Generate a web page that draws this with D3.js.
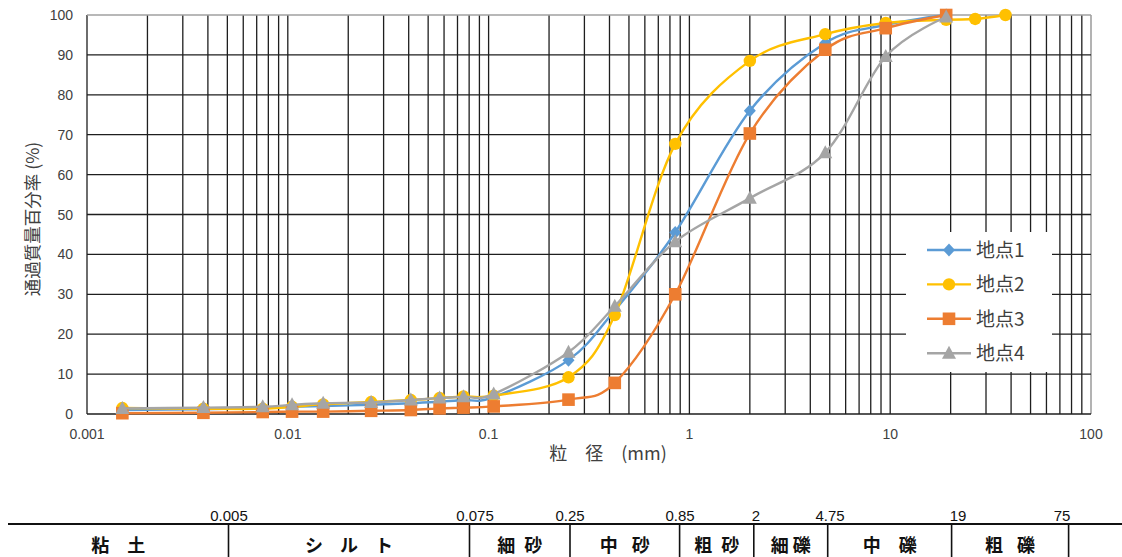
<!DOCTYPE html>
<html><head><meta charset="utf-8">
<script src="https://cdn.jsdelivr.net/npm/d3@7"></script>
<style>
html,body{margin:0;padding:0;background:#fff;}
svg{display:block;}
</style></head>
<body>
<svg id="chart" width="1122" height="557"></svg>
<script>
// ---------- data ----------
const sizes = [0.0015,0.0038,0.0075,0.0105,0.015,0.026,0.041,0.057,0.075,0.106,0.25,0.425,0.85,2,4.75,9.5,19,26.5,37.5];
const site1 = [1.0,1.2,1.5,1.8,2.0,2.3,2.7,3.1,3.5,4.2,13.5,26,45.5,76,93,97.5,100,null,null];
const site2 = [1.5,1.3,1.3,1.8,2.4,3.0,3.5,4.0,4.4,4.6,9.2,24.8,67.7,88.5,95.2,98,98.8,99,100];
const site3 = [0.2,0.3,0.5,0.6,0.6,0.8,1.0,1.4,1.6,1.9,3.6,7.8,30,70.3,91.3,96.7,100,null,null];
const site4 = [1.4,1.6,1.8,2.3,2.7,2.9,3.5,4.0,4.3,5.0,15.5,27,43.2,54.1,65.5,89.6,99.5,null,null];
const seriesNames = ["地点1","地点2","地点3","地点4"];
const yTicks = [0,10,20,30,40,50,60,70,80,90,100];
const xTickLabels = ["0.001","0.01","0.1","1","10","100"];
const xTickValues = [0.001,0.01,0.1,1,10,100];
const boundaryLabels = ["0.005","0.075","0.25","0.85","2","4.75","19","75"];
const soilClasses = ["粘土","シルト","細砂","中砂","粗砂","細礫","中礫","粗礫"];

// ---------- layout ----------
const svg = d3.select("#chart");
const L = 87, R = 1091, T = 15, B = 414;
const x = d3.scaleLog().domain([0.001,100]).range([L,R]);
const y = d3.scaleLinear().domain([0,100]).range([B,T]);
const colors = ["#5B9BD5","#FFC000","#ED7D31","#A5A5A5"];
const numFont = "'Liberation Sans', Arial, sans-serif";
const jpFont = "'Noto Sans CJK JP', sans-serif";

// grid
const g = svg.append("g");
const minor = [];
for (let e = -3; e < 2; e++) for (let k = 1; k <= 9; k++) minor.push(k * Math.pow(10, e));
minor.push(100);
g.selectAll("line.v").data(minor).enter().append("line")
  .attr("x1", d => x(d)).attr("x2", d => x(d)).attr("y1", T).attr("y2", B)
  .attr("stroke", (d,i) => i === minor.length-1 ? "#8a8a8a" : "#1e1e1e").attr("stroke-width", 1.3);
g.selectAll("line.h").data(yTicks).enter().append("line")
  .attr("x1", L).attr("x2", R).attr("y1", d => y(d)).attr("y2", d => y(d))
  .attr("stroke", d => d === 100 ? "#a0a0a0" : "#1e1e1e").attr("stroke-width", 1.3);

// y tick labels
svg.append("g").selectAll("text").data(yTicks).enter().append("text")
  .attr("x", 73).attr("y", d => y(d)).attr("dy", "0.36em").attr("text-anchor", "end")
  .attr("font-family", numFont).attr("font-size", 14).attr("fill", "#404040").text(d => d);
// x tick labels
svg.append("g").selectAll("text").data(xTickValues).enter().append("text")
  .attr("x", d => x(d)).attr("y", 434).attr("dy", "0.36em").attr("text-anchor", "middle")
  .attr("font-family", numFont).attr("font-size", 14).attr("fill", "#404040").text((d,i) => xTickLabels[i]);
// axis titles
svg.append("text").attr("x", 608).attr("y", 454).attr("dy", "0.36em").attr("text-anchor", "middle")
  .attr("font-family", jpFont).attr("font-size", 18).attr("fill", "#404040")
  .attr("xml:space", "preserve").text("粒　径　(mm)");
svg.append("text").attr("transform", "translate(33,219) rotate(-90)").attr("dy", "0.36em")
  .attr("text-anchor", "middle").attr("font-family", jpFont).attr("font-size", 17.5).attr("fill", "#404040")
  .text("通過質量百分率 (%)");

// series
const allSeries = [site1, site2, site3, site4].map((vals, i) => ({
  name: seriesNames[i], color: colors[i], i,
  pts: sizes.map((s, j) => ({s, v: vals[j]})).filter(p => p.v !== null)
}));
const line = d3.line().x(d => x(d.s)).y(d => y(d.v)).curve(d3.curveCatmullRom.alpha(0));
function marker(sel, i, color) {
  if (i === 0) {
    sel.append("path").attr("d", "M0,-6.5L6,0L0,6.5L-6,0Z").attr("fill", color);
  } else if (i === 1) {
    sel.append("circle").attr("r", 6.2).attr("fill", color);
  } else if (i === 2) {
    sel.append("rect").attr("x", -6.3).attr("y", -6.3).attr("width", 12.6).attr("height", 12.6).attr("fill", color);
  } else {
    sel.append("path").attr("d", "M0,-7.5L7,5.5L-7,5.5Z").attr("fill", color);
  }
}
allSeries.forEach(sr => {
  const gs = svg.append("g");
  gs.append("path").attr("d", line(sr.pts)).attr("fill", "none").attr("stroke", sr.color).attr("stroke-width", 2.4);
  sr.pts.forEach(p => {
    const m = gs.append("g").attr("transform", `translate(${x(p.s)},${y(p.v)})`);
    marker(m, sr.i, sr.color);
  });
});

// legend
const lg = svg.append("g");
lg.append("rect").attr("x", 906).attr("y", 232).attr("width", 146).attr("height", 140).attr("fill", "#fff");
allSeries.forEach((sr, k) => {
  const ly = 250 + k * 34.4;
  lg.append("line").attr("x1", 927).attr("x2", 971).attr("y1", ly).attr("y2", ly)
    .attr("stroke", sr.color).attr("stroke-width", 2.4);
  marker(lg.append("g").attr("transform", `translate(949,${ly})`), sr.i, sr.color);
  lg.append("text").attr("x", 976).attr("y", ly).attr("dy", "0.36em").attr("font-family", jpFont)
    .attr("font-size", 19).attr("fill", "#404040").text(sr.name);
});

// soil classification table
const edges = [8, 228.5, 469.5, 570, 679.6, 753.8, 827.7, 951.6, 1068.6, 1122];
const labelX = [229, 475, 570, 680, 756, 830, 958, 1062];
const classSpacing = [18, 17, 9, 14, 9, 4, 18, 14];
const tb = svg.append("g");
tb.append("line").attr("x1", 8).attr("x2", 1122).attr("y1", 524).attr("y2", 524).attr("stroke", "#111").attr("stroke-width", 2);
tb.selectAll("line.d").data(edges.slice(1, 9)).enter().append("line")
  .attr("x1", d => d).attr("x2", d => d).attr("y1", 524).attr("y2", 557).attr("stroke", "#111").attr("stroke-width", 1.6);
tb.selectAll("text.b").data(boundaryLabels).enter().append("text")
  .attr("x", (d,i) => labelX[i]).attr("y", 521).attr("text-anchor", "middle")
  .attr("font-family", numFont).attr("font-size", 15).attr("fill", "#111").text(d => d);
tb.selectAll("text.c").data(soilClasses).enter().append("text")
  .attr("x", (d,i) => (edges[i] + edges[i+1]) / 2 + classSpacing[i] / 2)
  .attr("y", 546).attr("dy", "0.36em").attr("text-anchor", "middle")
  .attr("letter-spacing", (d,i) => classSpacing[i])
  .attr("font-family", jpFont).attr("font-weight", 700).attr("font-size", 18).attr("fill", "#111")
  .text(d => d);
</script>
</body></html>
